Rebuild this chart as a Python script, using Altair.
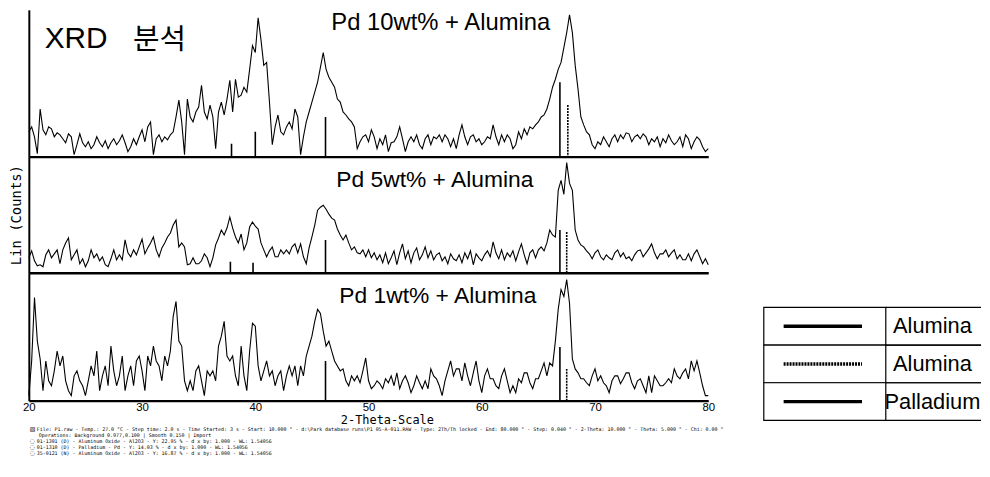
import altair as alt
import pandas as pd

# ---------------- data ----------------
X_START = 20.0
X_STEP = 0.25  # scan grid, degrees 2-theta

PANEL_TITLES = ["Pd 10wt% + Alumina", "Pd 5wt% + Alumina", "Pd 1wt% + Alumina"]

PD10 = [
    25, 30, 20, 3, 48, 27, 22, 30, 28, 20, 24, 22, 18, 14, 23, 20, 2, 12, 23, 14,
    10, 15, 8, 12, 20, 14, 10, 16, 8, 14, 18, 12, 16, 22, 14, 5, 10, 18, 12, 20,
    27, 15, 30, 35, 2, 18, 22, 15, 20, 17, 22, 25, 40, 57, 35, 2, 58, 40, 35, 45,
    50, 72, 45, 38, 52, 40, 8, 45, 55, 42, 58, 77, 45, 78, 60, 62, 70, 65, 88, 112,
    105, 140, 118, 92, 95, 55, 12, 30, 42, 25, 22, 30, 35, 28, 48, 40, 2, 20, 35, 45,
    55, 65, 75, 90, 105, 88, 80, 75, 70, 58, 55, 45, 42, 38, 35, 30, 8, 15, 20, 22,
    15, 27, 20, 8, 18, 12, 22, 5, 14, 15, 20, 30, 18, 5, 15, 20, 15, 22, 12, 8,
    18, 22, 12, 20, 18, 22, 15, 22, 18, 10, 18, 8, 22, 32, 20, 12, 20, 22, 15, 18,
    12, 15, 20, 18, 32, 20, 12, 22, 15, 22, 18, 8, 12, 25, 18, 28, 22, 30, 28, 32,
    35, 40, 42, 48, 58, 70, 78, 88, 95, 110, 125, 143, 125, 92, 68, 40, 32, 25, 22, 12,
    8, 15, 12, 20, 15, 10, 18, 22, 15, 22, 18, 24, 23, 15, 20, 22, 18, 23, 20, 12,
    18, 15, 20, 10, 18, 14, 22, 16, 12, 15, 20, 10, 22, 18, 8, 15, 20, 17, 10, 5,
    8,
]

PD5 = [
    15, 22, 12, 7, 8, 6, 18, 23, 15, 19, 23, 9, 23, 30, 35, 13, 18, 23, 9, 14,
    6, 12, 23, 15, 19, 12, 16, 8, 6, 14, 23, 13, 18, 13, 33, 20, 16, 23, 18, 26,
    34, 19, 25, 30, 36, 23, 16, 25, 30, 36, 40, 48, 53, 26, 30, 26, 8, 9, 15, 9,
    9, 12, 19, 15, 6, 15, 28, 35, 43, 38, 45, 56, 45, 36, 30, 39, 23, 30, 46, 51,
    47, 44, 30, 23, 16, 22, 26, 16, 16, 23, 19, 23, 19, 26, 29, 20, 29, 16, 9, 25,
    36, 48, 63, 66, 68, 64, 59, 55, 53, 44, 38, 33, 38, 30, 23, 26, 20, 19, 23, 16,
    23, 15, 20, 13, 18, 10, 20, 9, 15, 22, 8, 20, 29, 14, 22, 10, 20, 25, 13, 18,
    26, 15, 22, 13, 18, 20, 12, 16, 9, 19, 14, 12, 18, 10, 20, 14, 22, 8, 19, 15,
    12, 18, 22, 16, 31, 20, 14, 23, 13, 20, 16, 22, 12, 21, 29, 18, 9, 20, 23, 15,
    23, 26, 22, 30, 43, 38, 36, 83, 93, 79, 111, 90, 83, 43, 33, 28, 26, 22, 19, 14,
    20, 23, 16, 13, 18, 15, 13, 20, 23, 16, 20, 14, 16, 12, 18, 22, 23, 16, 20, 24,
    29, 20, 14, 19, 19, 23, 16, 20, 23, 14, 18, 13, 13, 19, 12, 19, 23, 16, 9, 14,
    8,
]

PD1 = [
    5, 40, 104, 60, 42, 10, 40, 20, 15, 30, 50, 35, 45, 20, 10, 5, 25, 30, 20, 15,
    5, 20, 35, 25, 50, 10, 25, 35, 15, 55, 30, 15, 25, 45, 10, 25, 35, 15, 40, 45,
    30, 10, 45, 35, 55, 40, 35, 20, 45, 35, 50, 85, 100, 60, 55, 20, 10, 20, 10, 30,
    35, 20, 5, 30, 25, 30, 20, 55, 65, 80, 45, 40, 45, 25, 15, 55, 25, 10, 50, 78,
    75, 35, 20, 30, 40, 25, 30, 15, 25, 30, 10, 25, 35, 25, 35, 15, 35, 25, 45, 55,
    65, 80, 92, 88, 70, 55, 60, 50, 40, 35, 30, 32, 20, 15, 25, 20, 25, 18, 30, 43,
    20, 12, 15, 20, 17, 12, 22, 18, 25, 15, 28, 12, 20, 25, 18, 8, 15, 25, 18, 12,
    20, 12, 32, 25, 22, 15, 5, 20, 30, 40, 25, 32, 32, 20, 38, 25, 15, 28, 40, 20,
    8, 25, 32, 22, 22, 15, 12, 25, 32, 20, 8, 15, 8, 22, 18, 28, 28, 18, 12, 22,
    22, 30, 38, 25, 38, 35, 60, 92, 112, 105, 122, 98, 42, 32, 28, 22, 22, 18, 15, 25,
    32, 20, 25, 18, 15, 8, 20, 25, 25, 17, 22, 28, 28, 18, 12, 20, 22, 15, 8, 25,
    8, 25, 20, 15, 15, 18, 22, 18, 32, 25, 22, 28, 32, 22, 40, 30, 40, 28, 15, 5,
    5,
]

# reference-pattern sticks (position, height, pattern style)
STICK_POS = [
    [37.9, 40.0, 46.2, 66.9, 67.6],
    [37.8, 39.8, 46.2, 66.9, 67.5],
    [46.2, 66.9, 67.5],
]
STICK_H = [
    [13, 25, 40, 75, 52],
    [11, 10, 33, 43, 41],
    [40, 54, 32],
]
STICK_STYLE = [
    ["solid", "solid", "solid", "solid", "dotted"],
    ["solid", "solid", "solid", "solid", "dotted"],
    ["solid", "solid", "dotted"],
]

X_TICKS = [20, 30, 40, 50, 60, 70, 80]

LEGEND_LABELS = ["Alumina", "Alumina", "Palladium"]
LEGEND_STYLE = ["solid", "dotted", "solid"]

FOOTER_LINES = [
    "File: P1.raw - Temp.: 27.0 °C - Step time: 2.0 s - Time Started: 3 s - Start: 10.000 ° - "
    "d:\\Park database runs\\P1 05-A-011.RAW - Type: 2Th/Th locked - End: 80.000 ° - Step: 0.040 ° - "
    "2-Theta: 10.000 ° - Theta: 5.000 ° - Chi: 0.00 °",
    "Operations: Background 0.977,0.100 | Smooth 0.150 | Import",
    "01-1301 (D) - Aluminum Oxide - Al2O3 - Y: 22.95 % - d x by: 1.000 - WL: 1.54056",
    "01-1310 (D) - Palladium - Pd - Y: 14.03 % - d x by: 1.000 - WL: 1.54056",
    "35-0121 (N) - Aluminum Oxide - Al2O3 - Y: 16.87 % - d x by: 1.000 - WL: 1.54056",
]
FOOTER_ICONS = ["▧", "", "◌", "◌", "◌"]

# ---------------- layout constants ----------------
PLOT_W = 685
HEIGHTS = [148, 117, 129]
TITLE_POS = [(305, 20), (310, 31), (313, 31)]
TITLE_SIZE = [24, 23, 23]
FOOTER_Y = [29, 35, 41, 47, 53]
FOOTER_X = [8, 10, 8, 8, 8]

SANS = "Liberation Sans"
MONO = "DejaVu Sans Mono"

xscale = alt.Scale(domain=[20, 80], nice=False, zero=False)
dash_scale = alt.Scale(domain=["solid", "dotted"], range=[[1, 0], [2, 1]])


def make_panel(i, values, bottom=False):
    h = HEIGHTS[i]
    df = pd.DataFrame({
        "theta": [X_START + k * X_STEP for k in range(len(values))],
        "counts": values,
    })
    sdf = pd.DataFrame({"theta": STICK_POS[i], "counts": STICK_H[i], "style": STICK_STYLE[i]})

    if bottom:
        xaxis = alt.Axis(values=X_TICKS, labels=True, ticks=False, grid=False,
                         labelFont=SANS, labelFontSize=11.5, labelPadding=1, labelFlush=False,
                         labelColor="black", domainWidth=2.5, domainColor="black",
                         title="2-Theta-Scale", titleFont=MONO, titleFontSize=12,
                         titleFontWeight="normal", titleColor="black",
                         titleX=361, titleY=19, titleBaseline="middle")
        xtitle = "2-Theta-Scale"
    else:
        xaxis = alt.Axis(labels=False, ticks=False, grid=False, domainWidth=2.5,
                         domainColor="black")
        xtitle = None

    if i == 1:
        yaxis = alt.Axis(labels=False, ticks=False, grid=False, domainWidth=2,
                         domainColor="black", title="Lin (Counts)", titleFont=MONO,
                         titleFontSize=14, titleFontWeight="normal", titleColor="black",
                         titlePadding=5)
        ytitle = "Lin (Counts)"
    else:
        yaxis = alt.Axis(labels=False, ticks=False, grid=False, domainWidth=2,
                         domainColor="black")
        ytitle = None

    yscale = alt.Scale(domain=[0, h], nice=False, zero=True)

    line = alt.Chart(df).mark_line(color="black", strokeWidth=1.1).encode(
        x=alt.X("theta:Q", scale=xscale, axis=xaxis, title=xtitle),
        y=alt.Y("counts:Q", scale=yscale, axis=yaxis, title=ytitle),
    )
    sticks = alt.Chart(sdf).mark_rule(color="black", strokeWidth=1.6).encode(
        x=alt.X("theta:Q", title=xtitle),
        y=alt.Y("counts:Q", title=ytitle),
        y2=alt.datum(0),
        strokeDash=alt.StrokeDash("style:N", scale=dash_scale, legend=None),
    )
    tx, ty = TITLE_POS[i]
    label = alt.Chart(pd.DataFrame({"t": [PANEL_TITLES[i]]})).mark_text(
        align="left", baseline="alphabetic", font=SANS, fontSize=TITLE_SIZE[i], color="black"
    ).encode(text="t:N", x=alt.value(tx), y=alt.value(ty))

    layers = [line, sticks, label]
    if i == 0:
        layers.append(
            alt.Chart(pd.DataFrame({"t": ["XRD"]})).mark_text(
                align="left", baseline="alphabetic", font=SANS, fontSize=30, color="black"
            ).encode(text="t:N", x=alt.value(16), y=alt.value(38))
        )
        layers.append(
            alt.Chart(pd.DataFrame({"t": ["분석"]})).mark_text(
                align="left", baseline="alphabetic", font="Noto Sans CJK KR", fontSize=29,
                color="black"
            ).encode(text="t:N", x=alt.value(105), y=alt.value(39))
        )
    return alt.layer(*layers).properties(width=PLOT_W, height=h)


top = make_panel(0, PD10)
mid = make_panel(1, PD5)
bot = make_panel(2, PD1, bottom=True)

# footer: instrument / pattern info lines
footer_layers = []
for k, txt in enumerate(FOOTER_LINES):
    footer_layers.append(
        alt.Chart(pd.DataFrame({"t": [txt]})).mark_text(
            align="left", baseline="middle", font=MONO, fontSize=5, color="black"
        ).encode(text="t:N", x=alt.value(FOOTER_X[k]), y=alt.value(FOOTER_Y[k]))
    )
    if FOOTER_ICONS[k]:
        footer_layers.append(
            alt.Chart(pd.DataFrame({"t": [FOOTER_ICONS[k]]})).mark_text(
                align="left", baseline="middle", font="DejaVu Sans", fontSize=6, color="black"
            ).encode(text="t:N", x=alt.value(1), y=alt.value(FOOTER_Y[k]))
        )
footer = alt.layer(*footer_layers).properties(width=710, height=57)

left = alt.vconcat(top, mid, bot, footer, spacing=0, bounds="flush")

# legend table
LEG_W = 219
LEG_DIV = 123
leg_df = pd.DataFrame({"row": [0, 1, 2], "label": LEGEND_LABELS, "style": LEGEND_STYLE})
row_scale = alt.Scale(paddingInner=0, paddingOuter=0)
cells = alt.Chart(leg_df).mark_rect(fill="white", stroke="black", strokeWidth=1.2).encode(
    y=alt.Y("row:O", axis=None, scale=row_scale), x=alt.value(0), x2=alt.value(LEG_DIV)
)
tops = alt.Chart(leg_df).mark_rule(color="black", strokeWidth=1.2).encode(
    y=alt.Y("row:O", axis=None, scale=row_scale, bandPosition=0),
    x=alt.value(LEG_DIV), x2=alt.value(LEG_W),
)
bottoms = alt.Chart(leg_df).mark_rule(color="black", strokeWidth=1.2).encode(
    y=alt.Y("row:O", axis=None, scale=row_scale, bandPosition=1),
    x=alt.value(LEG_DIV), x2=alt.value(LEG_W),
)
samples = alt.Chart(leg_df).mark_rule(color="black", strokeWidth=3.5).encode(
    y=alt.Y("row:O", axis=None, scale=row_scale),
    x=alt.value(20), x2=alt.value(99),
    strokeDash=alt.StrokeDash("style:N", scale=dash_scale, legend=None),
)
texts = alt.Chart(leg_df).mark_text(
    font=SANS, fontSize=22, align="center", baseline="middle", color="black"
).encode(y=alt.Y("row:O", axis=None, scale=row_scale), x=alt.value(170), text="label:N")
legend = alt.layer(cells, tops, bottoms, samples, texts).properties(width=LEG_W, height=114)

spacer = alt.Chart(pd.DataFrame({"v": [0]})).mark_point(opacity=0, size=1).encode(
    x=alt.value(100), y=alt.value(100)
).properties(width=LEG_W, height=299)

right = alt.vconcat(spacer, legend, spacing=0)

chart = alt.hconcat(left, right, spacing=30).properties(
    padding={"left": 2, "top": 0, "right": 0, "bottom": 0},
    background="white",
).configure_view(stroke=None).configure_axis(grid=False)

chart.save("out.html", embed_options={"renderer": "svg", "actions": False})
